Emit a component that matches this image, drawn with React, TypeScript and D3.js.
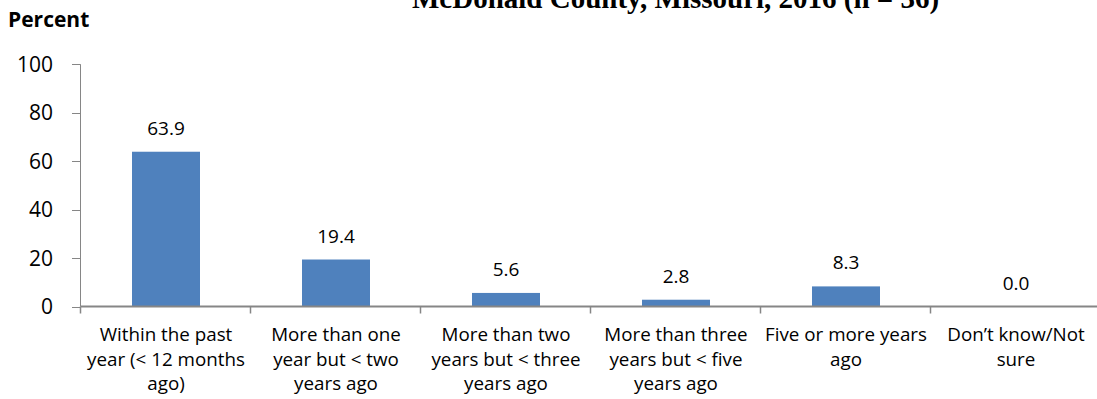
import React from "react";
import * as d3 from "d3";

const categories: string[] = [
  "Within the past\nyear (< 12 months\nago)",
  "More than one\nyear but < two\nyears ago",
  "More than two\nyears but < three\nyears ago",
  "More than three\nyears but < five\nyears ago",
  "Five or more years\nago",
  "Don\u2019t know/Not\nsure",
];
const values: number[] = [63.9, 19.4, 5.6, 2.8, 8.3, 0.0];
const yTicks: number[] = [0, 20, 40, 60, 80, 100];
const title = "McDonald County, Missouri, 2016 (n = 36)";
const yLabel = "Percent";

const W = 1097;
const H = 399;
const FONT = "'Open Sans', 'Liberation Sans', sans-serif";
const AXIS = "#868686";
const BAR = "#4F81BD";

export default function App() {
  const x = d3
    .scaleBand<number>()
    .domain(d3.range(categories.length))
    .range([81, 1101])
    .paddingInner(0.6)
    .paddingOuter(0.3);
  const y = d3.scaleLinear().domain([0, 100]).range([306.5, 64.3]);
  const step = x.step();
  const left = 80.5;
  const base = y(0);

  return (
    <svg
      width={W}
      height={H}
      style={{ position: "absolute", left: 0, top: 0, display: "block" }}
      fontFamily={FONT}
    >
      <rect x={0} y={0} width={W} height={H} fill="#fff" />
      <text
        x={412}
        y={8}
        fontFamily="'Liberation Serif', 'Times New Roman', serif"
        fontWeight="bold"
        fontSize={29}
        fill="#000"
      >
        {title}
      </text>
      <text x={8} y={27} fontWeight="bold" fontSize={21} fill="#000">
        {yLabel}
      </text>

      {/* y axis */}
      <line x1={left} x2={left} y1={y(100)} y2={base} stroke={AXIS} strokeWidth={1} />
      {yTicks.map((t) => (
        <g key={t}>
          <line x1={72} x2={left} y1={Math.round(y(t)) + 0.5} y2={Math.round(y(t)) + 0.5} stroke={AXIS} />
          <text
            x={53}
            y={y(t)}
            dy="0.36em"
            textAnchor="end"
            fontSize={21}
            fill="#000"
          >
            {t}
          </text>
        </g>
      ))}

      {/* bars */}
      {values.map((v, i) => (
        <rect
          key={i}
          x={x(i)!}
          y={y(v)}
          width={x.bandwidth()}
          height={base - y(v)}
          fill={BAR}
        />
      ))}
      {values.map((v, i) => (
        <text
          key={"l" + i}
          x={x(i)! + x.bandwidth() / 2}
          y={y(v) - 17}
          textAnchor="middle"
          fontSize={19}
          fill="#000"
        >
          {v.toFixed(1)}
        </text>
      ))}

      {/* x axis */}
      <line x1={left} x2={W} y1={base} y2={base} stroke={AXIS} strokeWidth={2} />
      {d3.range(categories.length + 1).map((i) => {
        const bx = Math.round(81 + i * step) - 0.5;
        return <line key={"t" + i} x1={bx} x2={bx} y1={base} y2={base + 7} stroke={AXIS} strokeWidth={1.5} />;
      })}
      {categories.map((c, i) => {
        const cx = x(i)! + x.bandwidth() / 2;
        return (
          <text key={"c" + i} x={cx} y={341} textAnchor="middle" fontSize={18.8} fill="#000">
            {c.split("\n").map((line, j) => (
              <tspan key={j} x={cx} dy={j === 0 ? 0 : 24.5}>
                {line}
              </tspan>
            ))}
          </text>
        );
      })}
    </svg>
  );
}
